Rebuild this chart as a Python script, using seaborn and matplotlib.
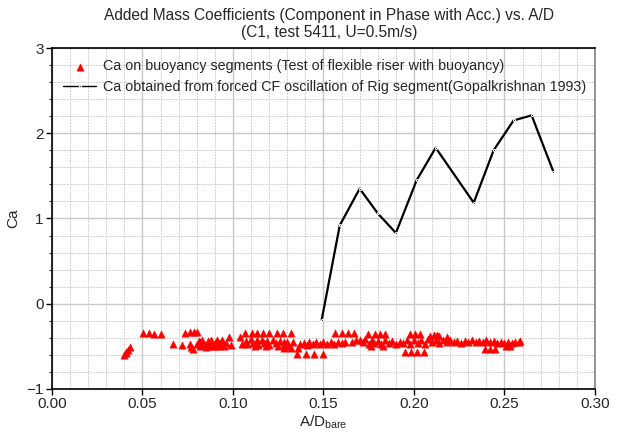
import numpy as np
import pandas as pd
import seaborn as sns
import matplotlib.pyplot as plt
from matplotlib.ticker import MultipleLocator

# Ca from flexible riser test (buoyancy segments)
buoy_x = [0.040, 0.041, 0.042, 0.043, 0.041,
          0.0505, 0.0535, 0.0565, 0.060, 0.067, 0.072,
          0.0735, 0.0765, 0.0785, 0.080, 0.076, 0.077, 0.078,
          0.080, 0.081, 0.082, 0.083, 0.084, 0.085, 0.086, 0.087, 0.088, 0.089,
          0.090, 0.091, 0.092, 0.093, 0.094, 0.095, 0.096, 0.082, 0.086, 0.090,
          0.098, 0.099, 0.104, 0.105,
          0.1066, 0.1103, 0.1134, 0.1164, 0.1201, 0.1242, 0.1278, 0.1319,
          0.107, 0.108, 0.110, 0.111, 0.113, 0.114, 0.116, 0.117, 0.119, 0.120,
          0.122, 0.124, 0.126, 0.128, 0.130, 0.112, 0.118, 0.125,
          0.1352, 0.1401, 0.1448, 0.1495, 0.136, 0.128, 0.132,
          0.128, 0.131, 0.133,
          0.137, 0.139, 0.141, 0.142, 0.144, 0.146, 0.148, 0.150, 0.152, 0.154,
          0.156, 0.158, 0.160, 0.162,
          0.1564, 0.160, 0.1637, 0.1668, 0.166, 0.168,
          0.1748, 0.1785, 0.1812, 0.184,
          0.170, 0.172, 0.173, 0.175, 0.177, 0.178, 0.180, 0.182, 0.184, 0.186,
          0.188, 0.190, 0.192, 0.176, 0.183,
          0.195, 0.1983, 0.2018, 0.2055, 0.1978, 0.2006, 0.2033,
          0.194, 0.196, 0.198, 0.200, 0.202, 0.204, 0.206, 0.208, 0.210, 0.212,
          0.214, 0.209, 0.211, 0.2125, 0.214, 0.218,
          0.216, 0.218, 0.220, 0.222, 0.224, 0.226, 0.228, 0.230, 0.232, 0.234,
          0.236, 0.238, 0.240, 0.242, 0.244, 0.246, 0.248, 0.250, 0.252, 0.254,
          0.256, 0.258, 0.2586,
          0.239, 0.242, 0.2448, 0.253, 0.251]
buoy_ca = [-0.60, -0.57, -0.54, -0.51, -0.58,
           -0.34, -0.34, -0.35, -0.36, -0.47, -0.48,
           -0.34, -0.33, -0.33, -0.33, -0.47, -0.51, -0.53,
           -0.47, -0.44, -0.50, -0.42, -0.47, -0.51, -0.44, -0.48, -0.42, -0.50,
           -0.46, -0.43, -0.49, -0.46, -0.42, -0.49, -0.46, -0.45, -0.50, -0.50,
           -0.39, -0.48, -0.39, -0.47,
           -0.34, -0.34, -0.34, -0.34, -0.34, -0.34, -0.34, -0.34,
           -0.44, -0.47, -0.41, -0.46, -0.43, -0.48, -0.42, -0.46, -0.44, -0.48,
           -0.42, -0.46, -0.44, -0.48, -0.45, -0.50, -0.50, -0.49,
           -0.59, -0.59, -0.59, -0.59, -0.525, -0.52, -0.52,
           -0.45, -0.49, -0.45,
           -0.47, -0.46, -0.48, -0.45, -0.47, -0.45, -0.47, -0.45, -0.47, -0.45,
           -0.47, -0.45, -0.46, -0.45,
           -0.34, -0.34, -0.34, -0.34, -0.445, -0.42,
           -0.35, -0.35, -0.35, -0.35,
           -0.43, -0.45, -0.41, -0.47, -0.43, -0.46, -0.44, -0.47, -0.42, -0.46,
           -0.44, -0.47, -0.45, -0.49, -0.49,
           -0.57, -0.57, -0.57, -0.57, -0.36, -0.36, -0.36,
           -0.46, -0.43, -0.47, -0.42, -0.46, -0.43, -0.47, -0.41, -0.45, -0.42,
           -0.46, -0.38, -0.37, -0.37, -0.38, -0.39,
           -0.43, -0.45, -0.43, -0.45, -0.44, -0.46, -0.44, -0.45, -0.43, -0.45,
           -0.44, -0.45, -0.43, -0.45, -0.44, -0.46, -0.45, -0.46, -0.45, -0.46,
           -0.45, -0.45, -0.44,
           -0.535, -0.535, -0.535, -0.50, -0.50]

# Ca from forced CF oscillation of rigid segment (Gopalkrishnan 1993)
rig_x = [0.149, 0.159, 0.170, 0.180, 0.190, 0.2015, 0.212, 0.233, 0.244, 0.255, 0.265, 0.277]
rig_ca = [-0.19, 0.92, 1.35, 1.06, 0.83, 1.45, 1.83, 1.185, 1.80, 2.15, 2.21, 1.55]

buoy = pd.DataFrame({'AD': buoy_x, 'Ca': buoy_ca})
rig = pd.DataFrame({'AD': rig_x, 'Ca': rig_ca})

sns.set_style('white')
plt.rcParams['font.family'] = ['Liberation Sans', 'DejaVu Sans']
plt.rcParams['mathtext.default'] = 'regular'

fig = plt.figure(figsize=(6.24, 4.38), dpi=100)
ax = fig.add_axes([0.0833, 0.1119, 0.8702, 0.7785])

sns.scatterplot(data=buoy, x='AD', y='Ca', marker='^', color='red', s=28,
                edgecolor='red', linewidth=0.3, ax=ax, zorder=3,
                label='Ca on buoyancy segments (Test of flexible riser with buoyancy)')
sns.lineplot(data=rig, x='AD', y='Ca', color='black', linewidth=1.6, marker='.',
             markersize=3, estimator=None, sort=False, ax=ax, zorder=4,
             label='Ca obtained from forced CF oscillation of Rig segment(Gopalkrishnan 1993)')

ax.set_xlim(0, 0.30)
ax.set_ylim(-1, 3)
ax.xaxis.set_major_locator(MultipleLocator(0.05))
ax.xaxis.set_minor_locator(MultipleLocator(0.01))
ax.yaxis.set_major_locator(MultipleLocator(1))
ax.yaxis.set_minor_locator(MultipleLocator(0.2))
ax.set_xticklabels([f'{v:.2f}' for v in ax.get_xticks()])
ax.grid(True, which='major', color='#c8c8c8', linewidth=1.0, linestyle='-')
ax.grid(True, which='minor', color='#d0d0d0', linewidth=0.7, linestyle=(0, (2, 1)))
ax.set_axisbelow(True)

ax.tick_params(which='major', direction='out', length=4, width=1, labelsize=11, color='black',
               left=True, bottom=True, pad=2)
ax.tick_params(which='minor', direction='out', length=2, width=0.8, left=True, bottom=False)
for side in ['left', 'bottom', 'top']:
    ax.spines[side].set_color('black')
    ax.spines[side].set_linewidth(1.2)
ax.spines['right'].set_color('#808080')
ax.spines['right'].set_linewidth(1.2)

ax.set_xlabel('A/D$_{bare}$', fontsize=11, labelpad=2)
ax.set_ylabel('Ca', fontsize=11, labelpad=4)
fig.text(0.527, 0.946, 'Added Mass Coefficients (Component in Phase with Acc.) vs. A/D\n(C1, test 5411, U=0.5m/s)',
         fontsize=11.2, ha='center', va='center', linespacing=1.15)

leg = ax.legend(loc='upper left', bbox_to_anchor=(0.0, 1.0), frameon=False, fontsize=10.3,
                handlelength=2.3, handletextpad=0.5, borderaxespad=0.4, labelspacing=0.45)
leg.get_lines()[0].set_linewidth(1.0)

fig.savefig('out.png', dpi=100)
